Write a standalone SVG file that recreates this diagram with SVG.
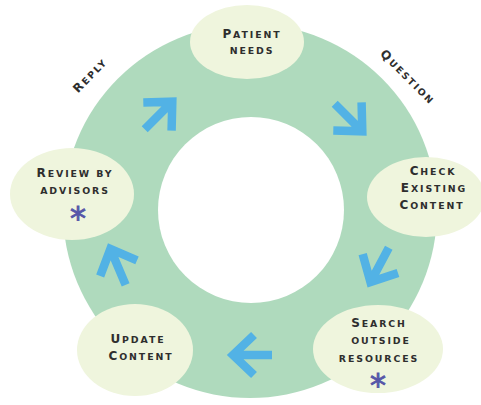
<svg xmlns="http://www.w3.org/2000/svg" width="481" height="405" viewBox="0 0 481 405">
<style>
.ring{fill:#afdabd}
.hole{fill:#ffffff}
.node{fill:#eff5dd}
.t{font-family:"DejaVu Sans",sans-serif;font-weight:bold;font-size:9.4px;fill:#2e2e2e;letter-spacing:1.9px;text-anchor:middle}
.c{font-size:12px}
.star{font-family:"DejaVu Sans",sans-serif;font-size:32px;fill:#5656a8;stroke:#5656a8;stroke-width:0.9px;text-anchor:middle}
.arr{fill:none;stroke:#52b2e5;stroke-width:8.5;stroke-linejoin:miter;stroke-miterlimit:10}
</style>
<defs>
<path id="arrow" d="M-40,0 H-4 M-22,-20 L-1,0 L-22,20"/>
</defs>
<rect width="481" height="405" fill="#ffffff"/>
<g id="ring">
<circle class="ring" cx="250" cy="211" r="187"/>
<circle class="hole" cx="251" cy="210" r="93"/>
</g>
<g id="connectors">
<use href="#arrow" class="arr" transform="translate(173,101) rotate(-45)"/>
<use href="#arrow" class="arr" transform="translate(363,132) rotate(45)"/>
<use href="#arrow" class="arr" transform="translate(370,283) rotate(118)"/>
<use href="#arrow" class="arr" transform="translate(232,355) rotate(180)"/>
<use href="#arrow" class="arr" transform="translate(110,248) rotate(-113)"/>
</g>
<g id="label-reply">
<text class="t" transform="translate(93,78) rotate(-46)"><tspan class="c">R</tspan>EPLY</text>
</g>
<g id="label-question">
<text class="t" transform="translate(405,80) rotate(45)"><tspan class="c">Q</tspan>UESTION</text>
</g>
<g id="node-patient">
<ellipse class="node" cx="247" cy="42" rx="57" ry="37"/>
<text class="t" x="252" y="38"><tspan class="c">P</tspan>ATIENT</text>
<text class="t" x="252" y="54">NEEDS</text>
</g>
<g id="node-check">
<ellipse class="node" cx="426" cy="197" rx="59" ry="40"/>
<text class="t" x="433" y="175"><tspan class="c">C</tspan>HECK</text>
<text class="t" x="434" y="192"><tspan class="c">E</tspan>XISTING</text>
<text class="t" x="432" y="209"><tspan class="c">C</tspan>ONTENT</text>
</g>
<g id="node-search">
<ellipse class="node" cx="378" cy="349" rx="65" ry="44"/>
<text class="t" x="379" y="327"><tspan class="c">S</tspan>EARCH</text>
<text class="t" x="381" y="344">OUTSIDE</text>
<text class="t" x="379" y="362">RESOURCES</text>
<text class="star" x="378" y="396">*</text>
</g>
<g id="node-update">
<ellipse class="node" cx="135" cy="350" rx="58" ry="46"/>
<text class="t" x="138" y="343"><tspan class="c">U</tspan>PDATE</text>
<text class="t" x="141" y="360"><tspan class="c">C</tspan>ONTENT</text>
</g>
<g id="node-review">
<ellipse class="node" cx="72" cy="194" rx="62" ry="46"/>
<text class="t" x="75" y="177"><tspan class="c">R</tspan>EVIEW BY</text>
<text class="t" x="75" y="194">ADVISORS</text>
<text class="star" x="78" y="229">*</text>
</g>
</svg>
